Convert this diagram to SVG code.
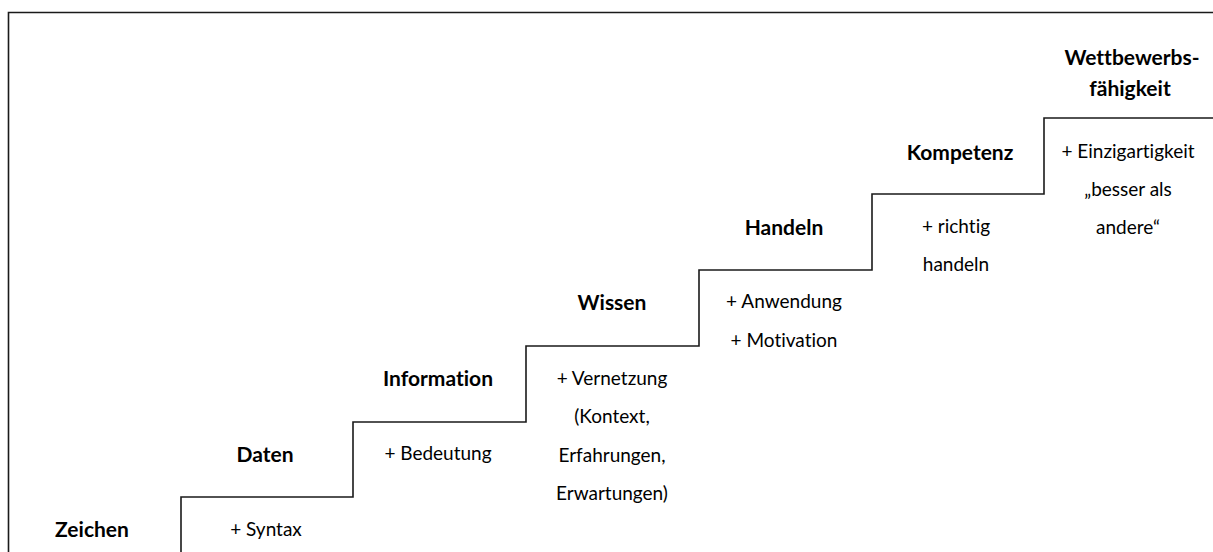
<svg xmlns="http://www.w3.org/2000/svg" width="1213" height="552" viewBox="0 0 1213 552">
<style>
.b{font-family:Lato,"Liberation Sans",sans-serif;font-weight:bold;font-size:21px;fill:#000;text-anchor:middle;font-variant-ligatures:none}
.r{font-family:Lato,"Liberation Sans",sans-serif;font-size:19px;fill:#000;text-anchor:middle;font-variant-ligatures:none}
.ln{fill:none;stroke:#1a1a1a;stroke-width:1.6}
</style>
<rect width="1213" height="552" fill="#fff"/>
<g id="frame"><path class="ln" d="M8.5,552 V12.5 H1213"/></g>
<g id="connectors"><path class="ln" d="M181,552 V497 H353 V422 H526 V346 H699 V270 H872 V194 H1044 V118 H1213"/></g>
<g id="zeichen"><text class="b" x="92" y="537">Zeichen</text><text class="r" x="266" y="536">+ Syntax</text></g>
<g id="daten"><text class="b" x="265" y="462">Daten</text><text class="r" x="438" y="460">+ Bedeutung</text></g>
<g id="information"><text class="b" x="438" y="386">Information</text>
<text class="r" x="612" y="385">+ Vernetzung</text><text class="r" x="612" y="423">(Kontext,</text><text class="r" x="612" y="462">Erfahrungen,</text><text class="r" x="612" y="500">Erwartungen)</text></g>
<g id="wissen"><text class="b" x="612" y="310">Wissen</text><text class="r" x="784" y="308">+ Anwendung</text><text class="r" x="784" y="347">+ Motivation</text></g>
<g id="handeln"><text class="b" x="784" y="235">Handeln</text><text class="r" x="956" y="233">+ richtig</text><text class="r" x="956" y="271">handeln</text></g>
<g id="kompetenz"><text class="b" x="960" y="160">Kompetenz</text><text class="r" x="1128" y="158">+ Einzigartigkeit</text><text class="r" x="1128" y="196">„besser als</text><text class="r" x="1128" y="234">andere“</text></g>
<g id="wettbewerb"><text class="b" x="1132" y="65">Wettbewerbs-</text><text class="b" x="1130" y="96">fähigkeit</text></g>
</svg>
